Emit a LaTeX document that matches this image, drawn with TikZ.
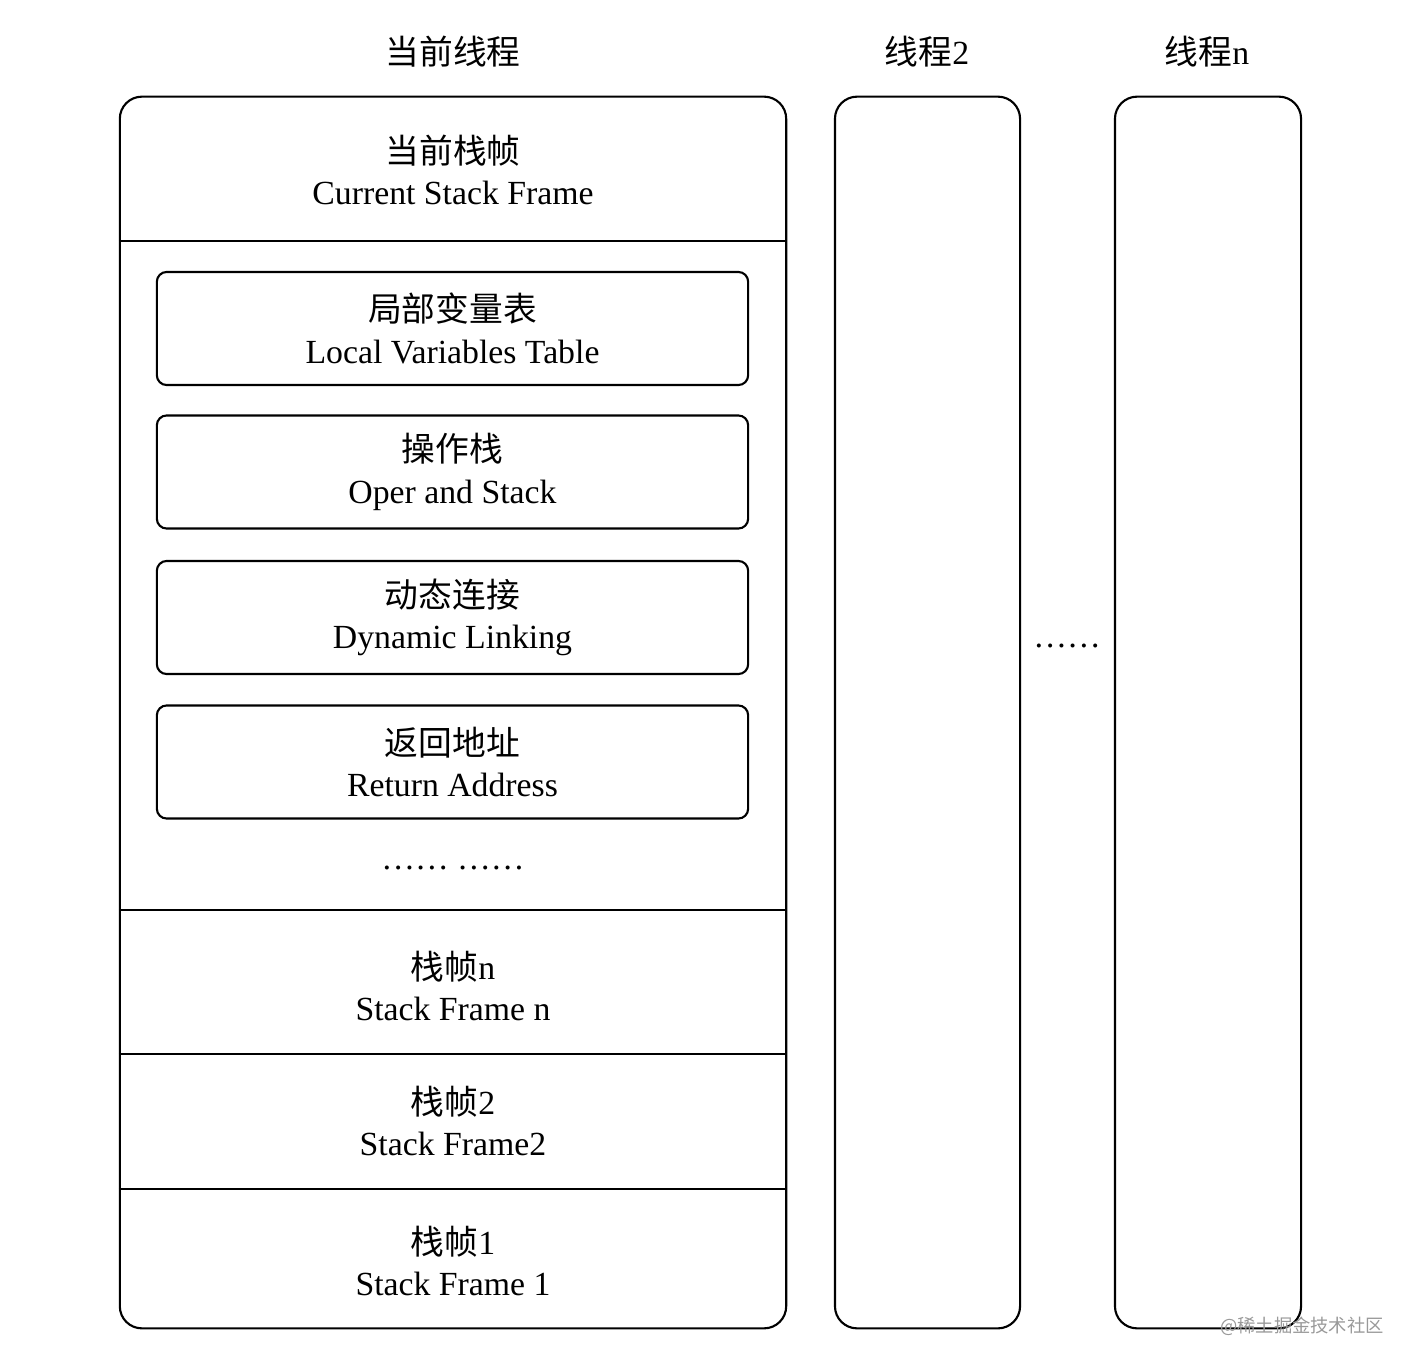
\documentclass[tikz,border=0pt]{standalone}
\usepackage{fontspec}
\setmainfont{Liberation Serif}
\newfontfamily\cjk{Noto Sans CJK SC}
\usepackage{xcolor}

\begin{document}
\begin{tikzpicture}[x=0.01cm, y=-0.01cm, line width=0.6pt]
		\tikzstyle{every node}=[align=center, inner sep=0pt, font=\fontsize{9.6}{11.8}\selectfont]
		\tikzstyle{thread}=[draw, rounded corners=6.3pt, minimum height=12.31cm]
		\tikzstyle{part}=[draw, rounded corners=2.8pt, minimum width=5.91cm, minimum height=1.13cm]
			\useasboundingbox (0,0) rectangle (1416,1370);

			% threads
			\node (curtitle) at (453,52) {\cjk 当前线程};
			\node (t2title) at (927,52) {{\cjk 线程}2};
			\node (tntitle) at (1207,52) {{\cjk 线程}n};
			\node[thread, minimum width=6.66cm] (cur) at (453,712.5) {};
			\node[thread, minimum width=1.85cm] (t2) at (927.5,712.5) {};
			\node[thread, minimum width=1.86cm] (tn) at (1208,712.5) {};
			\node (tdots) at (1067,646) {……};

			% frames of the current thread
			\foreach \y in {241,910,1054,1189}
				\draw (cur.west |- 0,\y) -- (cur.east |- 0,\y);
			\node (csf) at (453,170) {{\cjk 当前栈帧}\\Current Stack Frame};
			\node[part] (lvt) at (452.5,328.5) {{\cjk 局部变量表}\\Local Variables Table};
			\node[part] (ops) at (452.5,472) {{\cjk 操作栈}\\Oper and Stack};
			\node[part] (dyn) at (452.5,617.5) {{\cjk 动态连接}\\Dynamic Linking};
			\node[part] (ret) at (452.5,762) {{\cjk 返回地址}\\Return Address};
			\node (fdots) at (453,868) {……\ ……};
			\node (sfn) at (453,986) {{\cjk 栈帧}n\\Stack Frame n};
			\node (sf2) at (453,1121) {{\cjk 栈帧}2\\Stack Frame2};
			\node (sf1) at (453,1261) {{\cjk 栈帧}1\\Stack Frame 1};

			\node[text=black!40, font=\fontsize{5.2}{7}\selectfont] (mark) at (1302,1326) {\cjk @稀土掘金技术社区};
\end{tikzpicture}
\end{document}
